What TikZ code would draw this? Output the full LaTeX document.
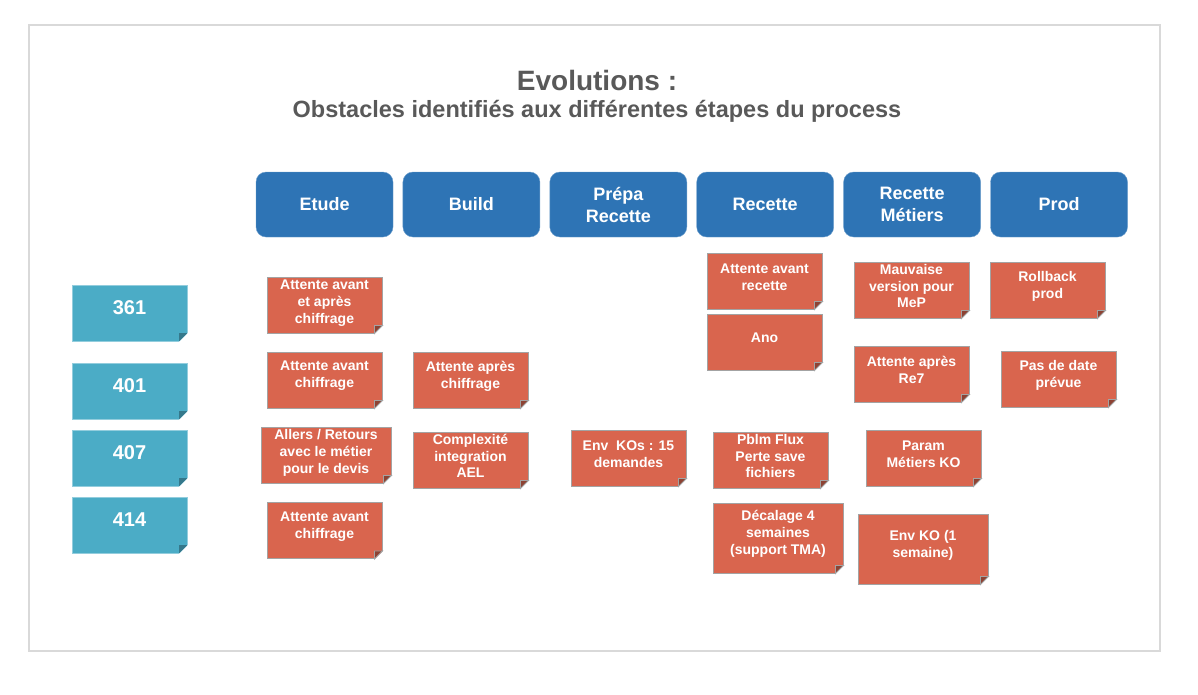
\documentclass[tikz,border=0pt]{standalone}
\usepackage{fontspec}
\setmainfont{Liberation Sans}
\usetikzlibrary{positioning}
\definecolor{phaseblue}{HTML}{2E74B5}
\definecolor{ticketteal}{HTML}{4BACC6}
\definecolor{notered}{HTML}{D9654E}
\definecolor{noteline}{HTML}{A3A3A3}
\definecolor{titlegray}{HTML}{595959}
\definecolor{framegray}{HTML}{D9D9D9}
\begin{document}
\begin{tikzpicture}[x=1pt,y=-1pt,
			phase/.style={rectangle, rounded corners=10pt, fill=phaseblue, draw=phaseblue!70!white, minimum width=137pt, minimum height=65pt, align=center, text=white, font=\fontsize{18}{22}\selectfont\bfseries},
			ticket/.style={rectangle, fill=ticketteal, draw=ticketteal!60!white, minimum width=115pt, minimum height=56pt},
			tickettext/.style={text=white, yshift=5pt, font=\fontsize{20}{24}\selectfont\bfseries},
			note/.style={rectangle, fill=notered, draw=noteline, line width=0.9pt, minimum width=115pt, minimum height=56pt},
			wide/.style={minimum width=130pt},
			tall/.style={minimum height=70pt},
			notetext/.style={align=center, text=white, yshift=4pt, font=\fontsize{14}{16.8}\selectfont\bfseries}
			]
			\useasboundingbox (0,0) rectangle (1198,694);
			\draw[framegray, line width=2pt] (29,25) rectangle (1160,651);
			
			% Titles
			\node[text=titlegray, font=\fontsize{28}{32}\selectfont\bfseries] (title) at (597,80) {Evolutions :};
			\node[text=titlegray, font=\fontsize{23.5}{27}\selectfont\bfseries] (subtitle) at (597,111) {Obstacles identifiés aux différentes étapes du process};
			
			% Phases
			\node[phase] (etude) at (324.5,204.5) {Etude};
			\node[phase, right=9.5pt of etude] (build) {Build};
			\node[phase, right=9.5pt of build] (prepa) {Prépa\\Recette};
			\node[phase, right=9.5pt of prepa] (recette) {Recette};
			\node[phase, right=9.5pt of recette] (metiers) {Recette\\Métiers};
			\node[phase, right=9.5pt of metiers] (prod) {Prod};
			
			% Evolutions
			\node[ticket, label={[tickettext]center:361}] (t361) at (129.5,313) {};
			\node[ticket, label={[tickettext]center:401}] (t401) at (129.5,391) {};
			\node[ticket, label={[tickettext]center:407}] (t407) at (129.5,458) {};
			\node[ticket, label={[tickettext]center:414}] (t414) at (129.5,525) {};
			
			% Obstacles
			\node[note, label={[notetext,yshift=-2pt]center:{Attente avant\\et après\\chiffrage}}] (etude1) at (324.5,305) {};
			\node[note, label={[notetext]center:{Attente avant\\chiffrage}}] (etude2) at (324.5,380) {};
			\node[note, wide, label={[notetext,yshift=-2pt]center:{Allers / Retours\\avec le métier\\pour le devis}}] (etude3) at (326,455) {};
			\node[note, label={[notetext]center:{Attente avant\\chiffrage}}] (etude4) at (324.5,530.5) {};
			\node[note, label={[notetext]center:{Attente après\\chiffrage}}] (build2) at (470.5,380) {};
			\node[note, label={[notetext]center:{Complexité\\integration\\AEL}}] (build3) at (470.5,460) {};
			\node[note, label={[notetext]center:{Env\ \ KOs : 15\\demandes}}] (prepa3) at (628.5,458) {};
			\node[note, label={[notetext]center:{Attente avant\\recette}}] (recette1) at (764.5,281) {};
			\node[note, label={[notetext]center:{Ano}}] (recette2) at (764.5,342) {};
			\node[note, label={[notetext]center:{Pblm Flux\\Perte save\\fichiers}}] (recette3) at (770.5,460) {};
			\node[note, wide, tall, label={[notetext]center:{Décalage 4\\semaines\\(support TMA)}}] (recette4) at (778,538) {};
			\node[note, label={[notetext]center:{Mauvaise\\version pour\\MeP}}] (metiers1) at (911.5,290) {};
			\node[note, label={[notetext]center:{Attente après\\Re7}}] (metiers2) at (911.5,374) {};
			\node[note, label={[notetext]center:{Param\\Métiers KO}}] (metiers3) at (923.5,458) {};
			\node[note, wide, tall, label={[notetext]center:{Env KO (1\\semaine)}}] (metiers4) at (923,549) {};
			\node[note, label={[notetext]center:{Rollback\\prod}}] (prod1) at (1047.5,290) {};
			\node[note, label={[notetext]center:{Pas de date\\prévue}}] (prod2) at (1058.5,379) {};
			
			% Folded corners
			\foreach \n in {t361,t401,t407,t414} {
				\fill[white] ([xshift=-8.6pt,yshift=-1pt]\n.south east) -- ([xshift=1pt,yshift=-1pt]\n.south east) -- ([xshift=1pt,yshift=8.6pt]\n.south east) -- cycle;
				\fill[ticketteal!70!black] ([xshift=-8pt]\n.south east) -- ([yshift=8pt]\n.south east) -- ([xshift=-8pt,yshift=8pt]\n.south east) -- cycle;
			}
			\foreach \n in {etude1,etude2,etude3,etude4,build2,build3,prepa3,recette1,recette2,recette3,recette4,metiers1,metiers2,metiers3,metiers4,prod1,prod2} {
				\fill[white] ([xshift=-8.6pt,yshift=-1pt]\n.south east) -- ([xshift=1pt,yshift=-1pt]\n.south east) -- ([xshift=1pt,yshift=8.6pt]\n.south east) -- cycle;
				\filldraw[fill=notered!65!black, draw=noteline, line width=0.9pt] ([xshift=-8pt]\n.south east) -- ([yshift=8pt]\n.south east) -- ([xshift=-8pt,yshift=8pt]\n.south east) -- cycle;
			}
			
		\end{tikzpicture}
\end{document}
